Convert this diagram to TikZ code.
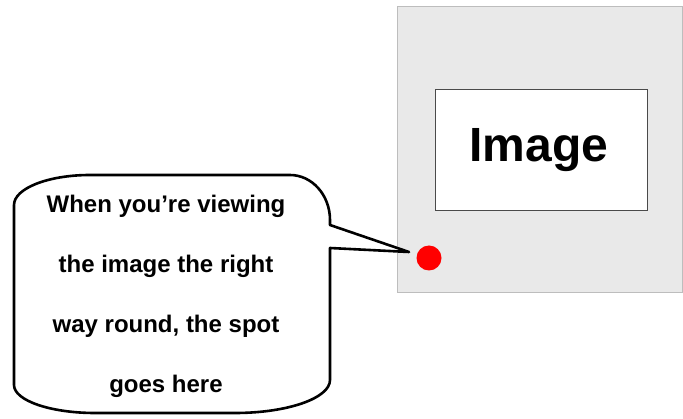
\documentclass[tikz,border=0pt]{standalone}
\usepackage{fontspec}
\setmainfont{Liberation Sans}

\definecolor{panelgray}{HTML}{E9E9E9}
\definecolor{panelline}{HTML}{BDBDBD}
\definecolor{framegray}{HTML}{4A4A4A}
\definecolor{spotred}{HTML}{FF0000}

\begin{document}
\begin{tikzpicture}[x=1pt,y=-1pt,inner sep=0pt,minimum size=0mm,
  bubbletext/.style={anchor=base,font=\bfseries\fontsize{24}{24}\selectfont}]

\useasboundingbox (0,0) rectangle (683,419);

\draw[panelline,fill=panelgray,line width=1pt] (397,7) rectangle (682,293);
\draw[framegray,fill=white,line width=1pt] (435,90) rectangle (647,211);

\node (img) at (539,162) [anchor=base,font=\bfseries\fontsize{48}{48}\selectfont] {Image};

\node (spot) at (429,258) [circle,fill=spotred,minimum size=25pt] {};
\coordinate (tip) at (409,252);

\draw[line width=2.6pt,fill=white,line join=round] (14,205) -- (14,385)
  arc[start angle=180,end angle=90,x radius=81,y radius=28] -- (235,413)
  arc[start angle=90,end angle=0,x radius=95,y radius=33] -- (330,248)
  -- (tip) -- (330,225) -- (330,220)
  arc[start angle=0,end angle=-90,x radius=40,y radius=45] -- (90,175)
  arc[start angle=-90,end angle=-180,x radius=76,y radius=30] -- cycle;

\node (line1) at (166,213) [bubbletext] {When you’re viewing};
\node (line2) at (166,273) [bubbletext] {the image the right};
\node (line3) at (166,333) [bubbletext] {way round, the spot};
\node (line4) at (166,393) [bubbletext] {goes here};

\end{tikzpicture}
\end{document}
